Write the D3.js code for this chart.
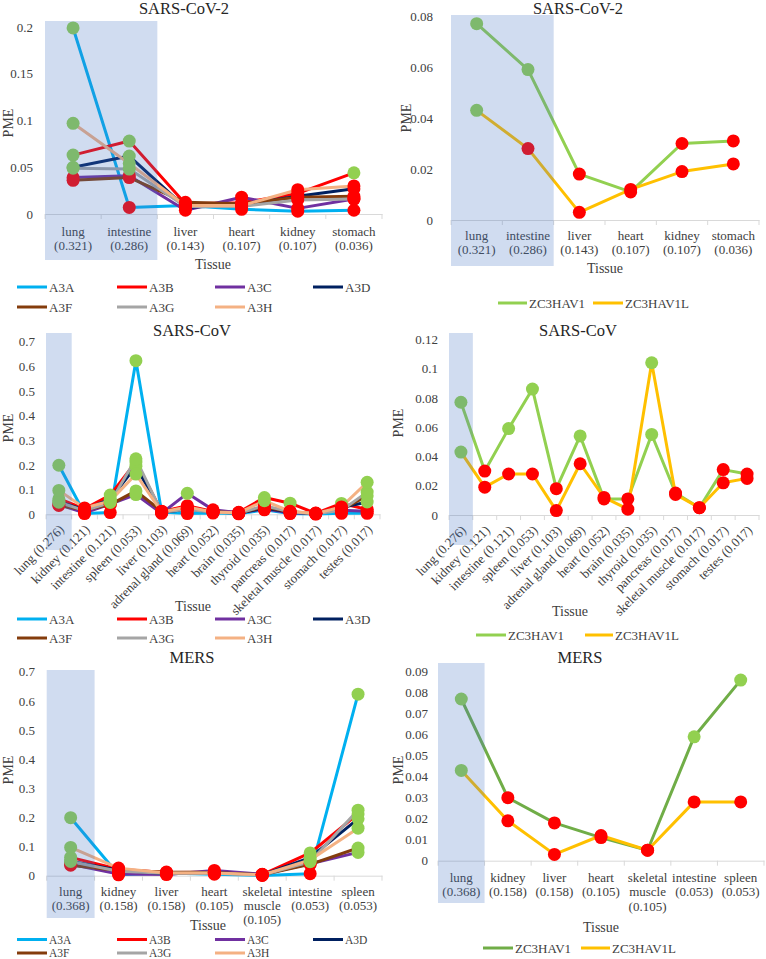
<!DOCTYPE html>
<html><head><meta charset="utf-8">
<script src="https://cdn.jsdelivr.net/npm/d3@7/dist/d3.min.js"></script>
<style>
body{margin:0;background:#fff}
svg{display:block}
svg text{font-family:'Liberation Serif','Times New Roman','DejaVu Serif',serif !important;fill:#404040}
.tick-lab{font-size:13px}
.cat-lab{font-size:13px}
.title{font-size:16.5px;fill:#262626 !important}
.ax-title{font-size:14px}
.leg{font-size:13px}
.leg-s{font-size:11.5px}
</style>
</head><body>
<svg id="chart" width="766" height="959" font-family="'Liberation Serif', serif"></svg>
<script>
// ---------- DATA ----------
const tissues = ["lung","intestine","liver","heart","kidney","stomach","spleen","adrenal gland","brain","thyroid","pancreas","skeletal muscle","testes"];
// PME per tissue (same order as tissues)
const A3A = [0.199,0.007,0.009,0.005,0.003,0.004,0.623,0.003,0.002,0.018,0.003,0.001,0.004];
const A3B = [0.063,0.078,0.011,0.012,0.022,0.044,0.212,0.035,0.008,0.068,0.045,0.004,0.020];
const A3C = [0.039,0.041,0.004,0.018,0.006,0.016,0.080,0.085,0.006,0.022,0.005,0.005,0.012];
const A3D = [0.050,0.062,0.007,0.010,0.019,0.027,0.195,0.020,0.004,0.025,0.008,0.003,0.050];
const A3F = [0.036,0.039,0.0125,0.011,0.018,0.019,0.095,0.025,0.005,0.030,0.010,0.003,0.075];
const A3G = [0.049,0.048,0.008,0.008,0.015,0.016,0.225,0.020,0.004,0.035,0.010,0.002,0.090];
const A3H = [0.097,0.054,0.009,0.009,0.026,0.030,0.163,0.030,0.006,0.055,0.012,0.003,0.130];
const ZC3HAV1  = [0.077,0.059,0.018,0.011,0.030,0.031,0.086,0.054,0.011,0.055,0.015,0.005,0.028];
const ZC3HAV1L = [0.043,0.028,0.003,0.012,0.019,0.022,0.028,0.035,0.004,0.104,0.014,0.005,0.025];
const HIGH_PME = 0.042; // markers at or above this value are green, below are red

const cov2Tissues = ["lung","intestine","liver","heart","kidney","stomach"];
const cov2Fractions = [0.321,0.286,0.143,0.107,0.107,0.036];
const covTissues = ["lung","kidney","intestine","spleen","liver","adrenal gland","heart","brain","thyroid","pancreas","skeletal muscle","stomach","testes"];
const covFractions = [0.276,0.121,0.121,0.053,0.103,0.069,0.052,0.035,0.035,0.017,0.017,0.017,0.017];
const mersTissues = ["lung","kidney","liver","heart","skeletal muscle","intestine","spleen"];
const mersFractions = [0.368,0.158,0.158,0.105,0.105,0.053,0.053];

const ticksA3cov2 = [0,0.05,0.1,0.15,0.2];
const ticksA3wide = [0,0.1,0.2,0.3,0.4,0.5,0.6,0.7];
const ticksZCcov2 = [0,0.02,0.04,0.06,0.08];
const ticksZCcov  = [0,0.02,0.04,0.06,0.08,0.1,0.12];
const ticksZCmers = [0,0.01,0.02,0.03,0.04,0.05,0.06,0.07,0.08,0.09];

const a3Names = ["A3A","A3B","A3C","A3D","A3F","A3G","A3H"];
const a3Values = [A3A,A3B,A3C,A3D,A3F,A3G,A3H];
const zcNames = ["ZC3HAV1","ZC3HAV1L"];
const zcValues = [ZC3HAV1,ZC3HAV1L];

// ---------- STYLE ----------
const a3Colors = ["#00b0f0","#ff0000","#7030a0","#002060","#843c0c","#a5a5a5","#f4b183"];
const zcColorsLight = ["#92d050","#ffc000"];
const zcColorsDark = ["#70ad47","#ffc000"];
const GREEN = "#92d050", RED = "#ff0000";

const svg = d3.select("#chart");
const fmt = d => d === 0 ? "0" : String(+d.toFixed(3));

function panel(c) {
  const g = svg.append("g");
  const x = d3.scaleBand().domain(c.tissues).range([c.x0, c.x1]);
  const y = d3.scaleLinear().domain([0, c.ticks[c.ticks.length-1]]).range([c.y0, c.yTop]);
  const cx = t => x(t) + x.bandwidth()/2;

  // y tick labels
  const ya = g.append("g").attr("transform", `translate(${c.tickRight},0)`)
    .call(d3.axisLeft(y).tickValues(c.ticks).tickSize(0).tickPadding(0).tickFormat(fmt));
  ya.attr("font-family", null).attr("font-size", null);
  ya.select(".domain").remove();
  ya.selectAll("text").attr("class","tick-lab");

  // x axis line
  const xa = g.append("g").attr("transform", `translate(0,${c.y0})`)
    .call(d3.axisBottom(x).tickSize(0).tickSizeOuter(0).tickFormat(""));
  xa.select(".domain").attr("stroke","#d9d9d9").attr("stroke-width",1);
  xa.selectAll(".tick").remove();
  // category boundary tick marks
  g.selectAll(".bt").data(d3.range(c.tissues.length+1)).join("line")
    .attr("x1", i => c.x0 + i*x.step()).attr("x2", i => c.x0 + i*x.step())
    .attr("y1", c.y0).attr("y2", c.y0+5).attr("stroke","#d9d9d9");

  // series
  const series = c.names.map((n,i) => ({
    name:n, color:c.colors[i],
    pts: c.tissues.map(t => ({t, v:c.values[i][tissues.indexOf(t)]}))
  }));
  const line = d3.line().x(d => cx(d.t)).y(d => y(d.v));
  g.selectAll(".ln").data(series).join("path")
    .attr("d", s => line(s.pts)).attr("fill","none")
    .attr("stroke", s => s.color).attr("stroke-width",3).attr("stroke-linejoin","round");
  series.forEach(s => {
    g.selectAll(null).data(s.pts).join("circle")
      .attr("cx", d => cx(d.t)).attr("cy", d => y(d.v)).attr("r",6.5)
      .attr("fill", d => d.v >= HIGH_PME ? GREEN : RED);
  });

  // category labels
  c.tissues.forEach((t,i) => {
    const frac = "(" + c.fractions[i].toFixed(3) + ")";
    if (c.rotate) {
      g.append("text").attr("class","cat-lab")
        .attr("transform", `translate(${cx(t)+c.rotDx},${c.y0+c.rotDy}) rotate(-45)`)
        .attr("text-anchor","end").text(t + " " + frac);
    } else {
      const lines = (c.wrap && t.includes(" ")) ? t.split(" ") : [t];
      lines.push(frac);
      lines.forEach((s,k) => g.append("text").attr("class","cat-lab")
        .attr("x", cx(t)).attr("y", c.y0 + c.lab0 + k*c.labStep)
        .attr("text-anchor","middle").text(s));
    }
  });

  // shaded highlight (drawn on top, translucent)
  g.append("rect").attr("x", c.x0).attr("y", c.shadeY[0])
    .attr("width", x.step()*c.shadeN).attr("height", c.shadeY[1]-c.shadeY[0])
    .attr("fill","#4472c4").attr("opacity",0.25);

  // titles
  g.append("text").attr("class","title").attr("x",c.titleX).attr("y",c.titleY)
    .attr("text-anchor","middle").text(c.title);
  g.append("text").attr("class","ax-title").attr("transform",`translate(${c.pmeX},${c.pmeY}) rotate(-90)`)
    .attr("text-anchor","middle").attr("dy","0.35em").text("PME");
  g.append("text").attr("class","ax-title").attr("x",c.tisX).attr("y",c.tisY)
    .attr("text-anchor","middle").text("Tissue");

  // legend
  c.legend.forEach((L,i) => {
    g.append("line").attr("x1",L[0]).attr("x2",L[0]+L[2]).attr("y1",L[1]).attr("y2",L[1])
      .attr("stroke", c.colors[i]).attr("stroke-width",3);
    g.append("text").attr("class", c.legClass || "leg").attr("x",L[0]+L[2]+2).attr("y",L[1]).attr("dy","0.35em")
      .text(c.names[i]);
  });
}

function a3Legend(r1, r2) {
  const xs = [17,117,215,313];
  return [[xs[0],r1,30],[xs[1],r1,30],[xs[2],r1,30],[xs[3],r1,30],[xs[0],r2,30],[xs[1],r2,30],[xs[2],r2,30]];
}

// SARS-CoV-2, APOBEC3
panel({tissues:cov2Tissues, fractions:cov2Fractions, names:a3Names, values:a3Values, colors:a3Colors,
  ticks:ticksA3cov2, x0:45, x1:382, y0:214, yTop:27, tickRight:33, shadeN:2, shadeY:[21,260],
  title:"SARS-CoV-2", titleX:184, titleY:14, pmeX:8, pmeY:123, lab0:22, labStep:13.5,
  tisX:213, tisY:269, legend:a3Legend(287,307)});
// SARS-CoV-2, ZC3HAV1
panel({tissues:cov2Tissues, fractions:cov2Fractions, names:zcNames, values:zcValues, colors:zcColorsLight,
  ticks:ticksZCcov2, x0:451, x1:759, y0:220, yTop:16, tickRight:433, shadeN:2, shadeY:[15,266],
  title:"SARS-CoV-2", titleX:578, titleY:14, pmeX:406, pmeY:118, lab0:20, labStep:14,
  tisX:605, tisY:273, legend:[[498,303,29],[593,303,30]]});
// SARS-CoV, APOBEC3
panel({tissues:covTissues, fractions:covFractions, names:a3Names, values:a3Values, colors:a3Colors,
  ticks:ticksA3wide, x0:46, x1:380, y0:514.3, yTop:341.7, tickRight:35, shadeN:1, shadeY:[333,550],
  title:"SARS-CoV", titleX:192, titleY:336, pmeX:8, pmeY:428, rotate:true, rotDx:6, rotDy:16,
  tisX:193, tisY:611, legend:a3Legend(619,638)});
// SARS-CoV, ZC3HAV1
panel({tissues:covTissues, fractions:covFractions, names:zcNames, values:zcValues, colors:zcColorsLight,
  ticks:ticksZCcov, x0:449, x1:759, y0:515, yTop:339.3, tickRight:438, shadeN:1, shadeY:[333,545],
  title:"SARS-CoV", titleX:578, titleY:336, pmeX:398, pmeY:423, rotate:true, rotDx:6, rotDy:16,
  tisX:570, tisY:616, legend:[[476,635,30],[585,635,28]]});
// MERS, APOBEC3
panel({tissues:mersTissues, fractions:mersFractions, names:a3Names, values:a3Values, colors:a3Colors,
  ticks:ticksA3wide, x0:46.7, x1:382, y0:875.7, yTop:671.7, tickRight:35, shadeN:1, shadeY:[670,918],
  title:"MERS", titleX:192, titleY:663, pmeX:8, pmeY:770, wrap:true, lab0:20.3, labStep:14,
  tisX:208, tisY:930, legend:a3Legend(939.5,953), legClass:"leg-s"});
// MERS, ZC3HAV1
panel({tissues:mersTissues, fractions:mersFractions, names:zcNames, values:zcValues, colors:zcColorsDark,
  ticks:ticksZCmers, x0:438, x1:764, y0:860.7, yTop:671.7, tickRight:428, shadeN:1, shadeY:[663,903],
  title:"MERS", titleX:580, titleY:663, pmeX:398, pmeY:770, wrap:true, lab0:21, labStep:14.5,
  tisX:601, tisY:931.7, legend:[[483,948,30],[581,948,29]]});
</script>
</body></html>
